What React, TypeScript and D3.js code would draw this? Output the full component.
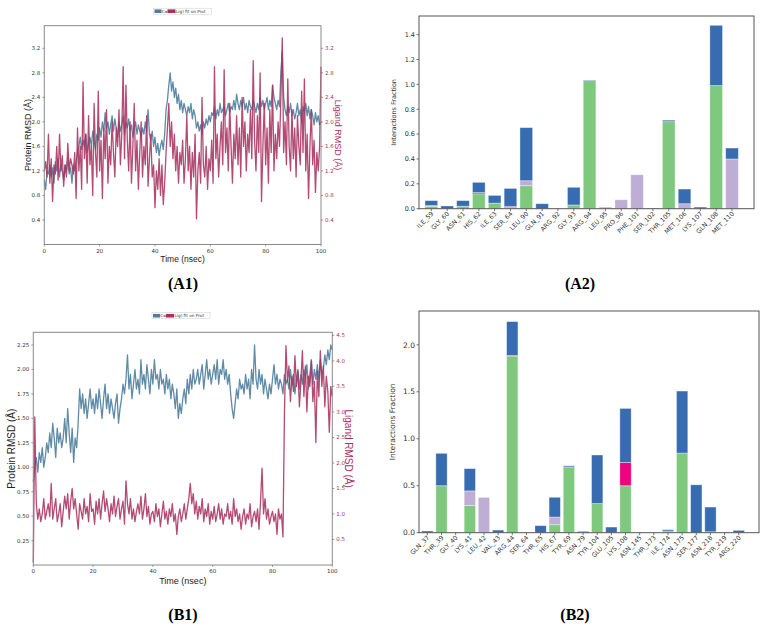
import React from 'react';
import * as d3 from 'd3';

// ---------- time series (sampled every 0.5 ns) ----------
const timeStep = 0.5;
const timeTicks = [0, 20, 40, 60, 80, 100];

const a1Protein = [
  1.05, 0.9, 1.2, 1.15, 1.3, 1.1, 1.25, 1.0, 1.35, 1.2,
  1.4, 1.1, 1.3, 1.2, 1.05, 1.3, 1.2, 1.4, 1.15, 1.25,
  1.0, 1.3, 1.2, 1.35, 1.5, 1.6, 1.75, 1.55, 1.7, 1.6,
  1.8, 1.5, 1.65, 1.75, 1.6, 1.85, 1.7, 1.55, 1.8, 1.7,
  1.9, 1.75, 2.0, 1.85, 2.15, 1.9, 2.0, 1.8, 1.95, 2.1,
  1.85, 2.05, 1.9, 1.75, 2.0, 1.85, 1.95, 2.1, 1.8, 2.0,
  1.9, 2.05, 1.85, 1.95, 1.75, 1.9, 2.0, 1.8, 1.95, 1.85,
  1.75, 1.9, 1.8, 2.0, 1.85, 2.2, 1.8, 1.7, 1.85, 1.6,
  1.75, 1.5, 1.65, 1.45, 1.6, 1.7, 1.55, 1.8, 2.2, 2.35,
  2.6, 2.8, 2.5, 2.65, 2.4, 2.55, 2.3, 2.45, 2.2, 2.35,
  2.15, 2.3, 2.2, 2.1, 2.25, 2.15, 2.3, 2.05, 2.2, 2.1,
  1.9, 2.0, 1.85, 1.95, 1.8, 2.0, 1.9, 2.05, 1.95, 2.1,
  2.0, 2.15, 2.1, 2.25, 2.05, 2.2, 2.1, 2.3, 2.15, 2.2,
  2.25, 2.1, 2.2, 2.3, 2.15, 2.25, 2.2, 2.35, 2.2, 2.45,
  2.3, 2.2, 2.35, 2.25, 2.4, 2.2, 2.3, 2.15, 2.35, 2.25,
  2.2, 2.35, 2.25, 2.15, 2.3, 2.2, 2.4, 2.25, 2.35, 2.2,
  2.3, 2.4, 2.2, 2.35, 2.25, 2.6, 2.4, 2.3, 2.2, 2.35,
  2.25, 2.8, 3.15, 2.4, 2.2, 2.1, 2.25, 2.15, 2.3, 2.1,
  2.2, 2.05, 2.15, 2.3, 2.1, 2.2, 2.0, 2.25, 2.15, 2.3,
  2.1, 2.25, 2.05, 2.2, 2.1, 1.95, 2.15, 2.0, 2.1, 1.95, 2.0,
];

const a1Ligand = [
  1.2, 1.35, 1.1, 1.8, 1.0, 1.4, 0.7, 1.3, 1.15, 1.6,
  1.05, 1.8, 1.2, 1.45, 0.95, 1.3, 1.1, 1.65, 1.2, 1.4,
  1.3, 1.15, 1.5, 0.75, 1.9, 1.2, 1.6, 0.9, 2.65, 1.4,
  1.8, 1.0, 2.1, 1.3, 1.6, 0.8, 2.3, 1.5, 1.1, 2.5,
  1.2, 1.7, 0.75, 1.9, 1.4, 2.2, 1.0, 1.6, 1.3, 2.0,
  1.5, 1.1, 1.9, 1.6, 2.2, 1.3, 1.8, 2.9, 1.4, 2.6,
  1.7, 1.2, 2.0, 1.0, 1.6, 2.3, 1.2, 1.7, 0.9, 1.5,
  2.0, 1.1, 1.6, 1.3, 2.1, 0.95, 1.4, 1.8, 1.1, 1.3,
  0.6, 1.2, 0.9, 1.4, 0.8, 1.3, 0.65, 1.0, 1.5, 1.9,
  2.3, 1.6, 2.0, 1.4, 1.8, 1.2, 1.6, 1.0, 1.5, 1.3,
  1.7, 1.0, 1.4, 2.1, 1.2, 1.6, 0.9, 1.5, 1.1, 1.8,
  0.42, 1.2, 1.5, 1.0, 2.4, 1.3, 1.1, 1.6, 0.9, 1.4,
  1.2, 1.7, 1.0, 2.9, 1.4, 1.8, 1.1, 1.6, 2.0, 1.3,
  2.85, 1.5, 1.9, 1.2, 2.3, 1.6, 1.0, 1.8, 1.4, 2.1,
  1.3, 1.9, 1.1, 2.4, 1.6, 2.0, 1.2, 1.8, 1.5, 2.2,
  1.4, 3.0, 1.7, 1.2, 2.1, 1.5, 2.8, 0.7, 1.6, 2.3,
  1.3, 1.9, 1.0, 2.2, 1.5, 2.6, 1.2, 1.8, 1.4, 2.0,
  1.6, 2.4, 3.37, 1.5, 2.0, 1.3, 2.7, 1.6, 1.2, 2.2,
  1.4, 1.9, 1.1, 2.1, 1.6, 1.3, 2.5, 1.5, 2.7, 1.2,
  1.8, 0.75, 1.6, 2.2, 1.3, 1.7, 0.85, 1.5, 1.2, 1.6, 2.9,
];

const b1Protein = [
  0.85, 1.0, 1.1, 0.95, 1.15, 1.05, 1.2, 1.0, 1.1, 1.25,
  1.15, 1.35, 1.2, 1.45, 1.3, 1.1, 1.4, 1.25, 1.35, 1.2,
  1.3, 1.5, 1.25, 1.6, 1.35, 1.15, 1.4, 1.05, 1.3, 1.2,
  1.45, 1.8, 1.6, 1.75, 1.55, 1.7, 1.5, 1.65, 1.8, 1.6,
  1.7, 1.55, 1.75, 1.6, 1.8, 1.65, 1.5, 1.7, 1.85, 1.6,
  1.75, 1.55, 1.7, 1.6, 1.5, 1.65, 1.75, 1.45, 1.6, 1.7,
  1.85, 1.75, 1.9, 2.15, 1.8, 1.95, 1.7, 1.85, 2.0, 1.8,
  1.9, 1.75, 2.1, 1.85, 1.95, 1.8, 2.05, 1.9, 1.75, 2.0,
  1.85, 2.1, 1.9, 1.95, 1.8, 2.0, 1.85, 1.9, 1.75, 1.95,
  1.8, 1.9, 1.7, 1.85, 1.75, 1.6, 1.8, 1.5, 1.65, 1.55,
  1.7, 1.8, 1.65, 1.9, 1.75, 1.95, 1.8, 2.0, 1.85, 1.9,
  2.0, 1.85, 1.95, 2.05, 1.8, 1.95, 2.1, 1.9, 2.0, 1.85,
  1.95, 2.05, 1.9, 2.1, 1.85, 2.0, 1.95, 2.1, 1.9, 2.0,
  1.85, 1.95, 1.75, 1.6, 1.5, 1.65, 1.8, 1.7, 1.9, 1.8,
  1.85, 1.75, 1.95, 1.8, 1.9, 1.7, 2.0, 1.85, 2.25, 1.9,
  1.8, 2.0, 1.85, 1.95, 1.75, 1.9, 1.8, 1.7, 1.85, 1.75,
  1.9, 2.05, 1.85, 1.95, 1.8, 1.9, 1.85, 1.75, 1.95, 1.85,
  1.9, 1.8, 2.0, 1.85, 1.95, 1.75, 1.9, 2.0, 1.8, 1.95,
  1.85, 2.0, 1.9, 2.05, 1.8, 1.95, 2.1, 1.85, 2.0, 1.9,
  2.05, 1.9, 2.1, 1.95, 2.0, 2.15, 2.05, 2.2, 2.1, 2.25, 2.2,
];

const b1Ligand = [
  0.05, 2.9, 1.2, 0.9, 1.1, 0.85, 1.0, 1.3, 0.9, 1.05,
  1.2, 0.95, 1.6, 0.9, 1.1, 1.3, 0.85, 1.0, 1.2, 0.75,
  1.05, 1.35, 1.1, 1.4, 0.9, 1.25, 1.5, 1.1, 1.3, 1.0,
  0.7, 1.2, 1.05, 0.9, 1.3, 1.0, 1.15, 0.85, 1.4, 1.05,
  1.1, 0.8, 1.25, 1.0, 1.3, 0.9, 1.2, 1.45, 1.05, 1.3,
  1.1, 0.85, 1.2, 1.0, 1.35, 0.95, 1.15, 1.3, 0.9, 1.1,
  1.25, 0.8, 1.65, 1.2, 1.0, 1.3, 0.9, 1.1, 0.85, 1.05,
  1.2, 1.0, 1.35, 0.9, 1.1, 1.4, 0.95, 1.15, 0.8, 1.0,
  1.05, 0.85, 1.2, 0.95, 1.1, 0.75, 1.0, 1.25, 0.9, 1.05,
  0.8, 1.1, 0.95, 1.2, 0.85, 1.0, 0.6, 0.95, 1.1, 0.85,
  1.0, 1.2, 0.9, 1.1, 1.3, 1.6, 1.2, 1.4, 1.0, 1.25,
  0.9, 1.15, 1.0, 1.3, 0.85, 1.1, 0.95, 1.2, 0.8, 1.05,
  0.9, 1.15, 0.85, 1.0, 1.2, 0.9, 1.1, 0.8, 1.0, 0.95,
  1.2, 0.9, 1.05, 0.8, 1.3, 0.95, 1.1, 0.85, 1.0, 0.7,
  0.95, 1.1, 0.8, 1.0, 0.9, 1.2, 0.75, 0.95, 1.05, 0.85,
  1.1, 0.7, 1.25, 1.9, 1.0, 1.3, 0.9, 1.1, 0.8, 0.95,
  1.05, 0.85, 1.0, 0.6, 1.1, 0.9, 1.0, 0.55, 3.0, 4.3,
  3.6, 3.9, 3.2, 3.7, 3.4, 4.1, 3.5, 3.8, 3.1, 3.6,
  4.2, 3.3, 3.9, 3.0, 3.7, 3.5, 4.0, 3.2, 3.6, 2.4,
  3.8, 3.3, 4.2, 3.5, 3.9, 3.1, 3.7, 3.4, 2.6, 3.5, 3.3,
];

const a1LeftTicks = [0.4, 0.8, 1.2, 1.6, 2.0, 2.4, 2.8, 3.2];
const a1RightTicks = [0.4, 0.8, 1.2, 1.6, 2.0, 2.4, 2.8, 3.2];
const b1LeftTicks = [0.25, 0.5, 0.75, 1.0, 1.25, 1.5, 1.75, 2.0, 2.25];
const b1RightTicks = [0.5, 1.0, 1.5, 2.0, 2.5, 3.0, 3.5, 4.0, 4.5];

// ---------- interaction fractions ----------
const a2Residues = ['ILE_59', 'GLY_60', 'ASN_61', 'HIS_62', 'ILE_63', 'SER_64', 'LEU_90', 'GLN_91', 'ARG_92', 'GLY_93', 'ARG_94', 'LEU_95', 'PRO_96', 'PHE_101', 'SER_102', 'THR_105', 'MET_106', 'LYS_107', 'GLN_108', 'MET_110'];
const a2HBonds = [0.02, 0, 0.02, 0.12, 0.045, 0.01, 0.185, 0, 0, 0.03, 1.03, 0, 0, 0, 0, 0.70, 0, 0, 0.99, 0];
const a2Hydrophobic = [0.005, 0, 0, 0, 0, 0, 0.04, 0, 0, 0, 0, 0.013, 0.072, 0.273, 0, 0, 0.04, 0, 0, 0.40];
const a2Ionic = [0, 0, 0, 0.01, 0, 0.008, 0, 0, 0, 0, 0, 0, 0, 0, 0, 0, 0, 0, 0, 0];
const a2Water = [0.04, 0.022, 0.045, 0.082, 0.062, 0.145, 0.427, 0.04, 0, 0.142, 0.005, 0, 0, 0, 0.004, 0.012, 0.118, 0.013, 0.485, 0.088];
const a2Ticks = [0.0, 0.2, 0.4, 0.6, 0.8, 1.0, 1.2, 1.4];

const b2Residues = ['GLN_37', 'THR_39', 'GLY_40', 'LYS_41', 'LEU_42', 'VAL_43', 'ARG_44', 'SER_64', 'THR_65', 'HIS_67', 'TYR_69', 'ASN_79', 'TYR_104', 'GLU_105', 'LYS_108', 'ASN_145', 'THR_173', 'ILE_174', 'ASN_175', 'SER_177', 'ASN_218', 'TYR_219', 'ARG_220'];
const b2HBonds = [0, 0.5, 0, 0.29, 0, 0, 1.88, 0, 0, 0.085, 0.70, 0, 0.31, 0, 0.5, 0, 0, 0.018, 0.848, 0, 0.01, 0, 0];
const b2Hydrophobic = [0, 0, 0.004, 0.155, 0.376, 0, 0, 0, 0, 0.082, 0, 0, 0, 0, 0, 0, 0, 0, 0, 0, 0, 0.005, 0];
const b2Ionic = [0, 0, 0, 0, 0, 0, 0.007, 0, 0, 0, 0, 0, 0, 0, 0.248, 0, 0, 0, 0, 0, 0, 0, 0];
const b2Water = [0.018, 0.345, 0, 0.237, 0, 0.028, 0.36, 0.002, 0.075, 0.21, 0.012, 0.014, 0.517, 0.06, 0.575, 0, 0, 0.014, 0.66, 0.51, 0.263, 0, 0.025];
const b2Ticks = [0.0, 0.5, 1.0, 1.5, 2.0];

const seriesColors = { hbond: '#7fc97f', hydrophobic: '#beaed4', ionic: '#f0027f', water: '#386cb0' };
const protColor = '#4f7e9c';
const ligColor = '#a8325e';
const tickFont = 'DejaVu Sans, sans-serif';

type LineProps = {
  x0: number; x1: number; yTop: number; yBot: number;
  prot: number[]; lig: number[];
  leftDomain: [number, number]; rightDomain: [number, number];
  leftTicks: number[]; rightTicks: number[]; leftFmt: (v: number) => string; rightFmt: (v: number) => string;
  legendX: number; legendY: number; labelSize: number; timeSize: number;
  leftLabelX: number; rightLabelX: number; timeY: number;
};

function LinePanel(p: LineProps) {
  const x = d3.scaleLinear().domain([0, 100]).range([p.x0, p.x1]);
  const yl = d3.scaleLinear().domain(p.leftDomain).range([p.yBot, p.yTop]);
  const yr = d3.scaleLinear().domain(p.rightDomain).range([p.yBot, p.yTop]);
  const lineL = d3.line<number>().x((_, i) => x(i * timeStep)).y((d) => yl(d));
  const lineR = d3.line<number>().x((_, i) => x(i * timeStep)).y((d) => yr(d));
  const midY = (p.yTop + p.yBot) / 2;
  return (
    <g>
      <path d={lineL(p.prot) || ''} fill="none" stroke={protColor} strokeWidth={1.3} strokeOpacity={0.9} strokeLinejoin="round" />
      <path d={lineR(p.lig) || ''} fill="none" stroke={ligColor} strokeWidth={1.3} strokeOpacity={0.88} strokeLinejoin="round" />
      <rect x={p.x0} y={p.yTop} width={p.x1 - p.x0} height={p.yBot - p.yTop} fill="none" stroke="#8a8a8a" strokeWidth={1} />
      {timeTicks.map((t) => (
        <g key={t}>
          <line x1={x(t)} x2={x(t)} y1={p.yBot} y2={p.yBot + 2} stroke="#666" strokeWidth={0.6} />
          <text x={x(t)} y={p.yBot + 8} fontSize={5.5} fontFamily={tickFont} textAnchor="middle" fill="#333">{t}</text>
        </g>
      ))}
      {p.leftTicks.map((t) => (
        <g key={'l' + t}>
          <line x1={p.x0 - 2} x2={p.x0} y1={yl(t)} y2={yl(t)} stroke="#666" strokeWidth={0.6} />
          <text x={p.x0 - 4} y={yl(t) + 2} fontSize={5.5} fontFamily={tickFont} textAnchor="end" fill="#333">{p.leftFmt(t)}</text>
        </g>
      ))}
      {p.rightTicks.map((t) => (
        <g key={'r' + t}>
          <line x1={p.x1} x2={p.x1 + 2} y1={yr(t)} y2={yr(t)} stroke={ligColor} strokeWidth={0.6} />
          <text x={p.x1 + 4} y={yr(t) + 2} fontSize={5.5} fontFamily={tickFont} textAnchor="start" fill={ligColor}>{p.rightFmt(t)}</text>
        </g>
      ))}
      <text x={(p.x0 + p.x1) / 2} y={p.timeY} fontSize={p.timeSize} fontFamily="Liberation Sans, sans-serif" textAnchor="middle" fill="#222">Time (nsec)</text>
      <text transform={`translate(${p.leftLabelX},${midY}) rotate(-90)`} fontSize={p.labelSize} fontFamily="Liberation Sans, sans-serif" textAnchor="middle" fill="#222">Protein RMSD (Å)</text>
      <text transform={`translate(${p.rightLabelX},${midY}) rotate(90)`} fontSize={p.labelSize} fontFamily="Liberation Sans, sans-serif" textAnchor="middle" fill={ligColor}>Ligand RMSD (Å)</text>
      <g>
        <rect x={p.legendX} y={p.legendY} width={58} height={6} fill="#fff" stroke="#ccc" strokeWidth={0.5} />
        <rect x={p.legendX + 1} y={p.legendY + 1.2} width={7} height={3.6} fill={protColor} />
        <text x={p.legendX + 8.3} y={p.legendY + 4.6} fontSize={4.2} fontFamily={tickFont} fill="#333">Cα</text>
        <rect x={p.legendX + 14} y={p.legendY + 1.2} width={8} height={3.6} fill={ligColor} />
        <text x={p.legendX + 22.5} y={p.legendY + 4.6} fontSize={4.2} fontFamily={tickFont} fill="#333">Lig) fit on Prot</text>
      </g>
    </g>
  );
}

type BarProps = {
  x0: number; x1: number; yTop: number; yBot: number;
  residues: string[]; hb: number[]; hp: number[]; io: number[]; wb: number[];
  xDomain: [number, number]; yMax: number; ticks: number[];
  tickSize: number; labelSize: number; yLabelX: number; xLabelSize: number;
};

function BarPanel(p: BarProps) {
  const x = d3.scaleLinear().domain(p.xDomain).range([p.x0, p.x1]);
  const y = d3.scaleLinear().domain([0, p.yMax]).range([p.yBot, p.yTop]);
  const bw = (x(1) - x(0)) * 0.8;
  const layers: { key: string; vals: number[]; color: string }[] = [
    { key: 'hbond', vals: p.hb, color: seriesColors.hbond },
    { key: 'hydrophobic', vals: p.hp, color: seriesColors.hydrophobic },
    { key: 'ionic', vals: p.io, color: seriesColors.ionic },
    { key: 'water', vals: p.wb, color: seriesColors.water },
  ];
  const rows = p.residues.map((r, i) => ({ r, i, hbond: p.hb[i], hydrophobic: p.hp[i], ionic: p.io[i], water: p.wb[i] }));
  const stack = d3.stack<any>().keys(layers.map((l) => l.key))(rows);
  return (
    <g>
      {stack.map((s, li) => (
        <g key={s.key}>
          {s.map((d, i) => {
            const h = y(d[0]) - y(d[1]);
            if (h <= 0) return null;
            return (
              <rect key={i} x={x(i) - bw / 2} y={y(d[1])} width={bw} height={h} fill={layers[li].color}
                stroke="#ffffff" strokeOpacity={0.45} strokeWidth={0.8} />
            );
          })}
        </g>
      ))}
      <rect x={p.x0} y={p.yTop} width={p.x1 - p.x0} height={p.yBot - p.yTop} fill="none" stroke="#555" strokeWidth={1} />
      {p.ticks.map((t) => (
        <g key={t}>
          <line x1={p.x0 - 2.5} x2={p.x0} y1={y(t)} y2={y(t)} stroke="#444" strokeWidth={0.7} />
          <text x={p.x0 - 4} y={y(t) + p.tickSize * 0.36} fontSize={p.tickSize} fontFamily={tickFont} textAnchor="end" fill="#333">{t.toFixed(1)}</text>
        </g>
      ))}
      {p.residues.map((r, i) => (
        <g key={r}>
          <line x1={x(i)} x2={x(i)} y1={p.yBot} y2={p.yBot + 2.5} stroke="#444" strokeWidth={0.7} />
          <text transform={`translate(${x(i) + 2.5},${p.yBot + 5.5}) rotate(-45)`} fontSize={p.xLabelSize} fontFamily={tickFont} textAnchor="end" fill="#333">{r}</text>
        </g>
      ))}
      <text transform={`translate(${p.yLabelX},${(p.yTop + p.yBot) / 2}) rotate(-90)`} fontSize={p.labelSize} fontFamily={tickFont} textAnchor="middle" fill="#333">Interactions Fraction</text>
    </g>
  );
}

function Caption({ x, y, text }: { x: number; y: number; text: string }) {
  return <text x={x} y={y} fontSize={16} fontWeight="bold" fontFamily="Liberation Serif, serif" textAnchor="middle" fill="#000">{text}</text>;
}

export default function App() {
  const f1 = (v: number) => v.toFixed(1);
  const f2 = (v: number) => v.toFixed(2);
  return (
    <svg width={766} height={626} style={{ position: 'absolute', left: 0, top: 0, background: '#fff' }}>
      <rect width={766} height={626} fill="#fff" />
      <LinePanel x0={44.3} x1={321} yTop={25.7} yBot={244.5} prot={a1Protein} lig={a1Ligand}
        leftDomain={[0, 3.568]} rightDomain={[0, 3.568]} leftTicks={a1LeftTicks} rightTicks={a1RightTicks}
        leftFmt={f1} rightFmt={f1} legendX={153.5} legendY={8.2} labelSize={9} timeSize={8.5}
        leftLabelX={31} rightLabelX={335} timeY={262} />
      <BarPanel x0={419} x1={754} yTop={16} yBot={208.7} residues={a2Residues} hb={a2HBonds} hp={a2Hydrophobic}
        io={a2Ionic} wb={a2Water} xDomain={[-0.78, 20.39]} yMax={1.55} ticks={a2Ticks} tickSize={6.5}
        labelSize={6.5} yLabelX={396} xLabelSize={6.3} />
      <LinePanel x0={33.3} x1={332.3} yTop={332.3} yBot={565} prot={b1Protein} lig={b1Ligand}
        leftDomain={[0, 2.38]} rightDomain={[0, 4.56]} leftTicks={b1LeftTicks} rightTicks={b1RightTicks}
        leftFmt={f2} rightFmt={f1} legendX={152} legendY={312.7} labelSize={10} timeSize={9}
        leftLabelX={15} rightLabelX={345} timeY={584} />
      <BarPanel x0={419} x1={759} yTop={311} yBot={532.7} residues={b2Residues} hb={b2HBonds} hp={b2Hydrophobic}
        io={b2Ionic} wb={b2Water} xDomain={[-0.59, 23.43]} yMax={2.36} ticks={b2Ticks} tickSize={7.5}
        labelSize={7.5} yLabelX={395} xLabelSize={6.3} />
      <Caption x={183} y={289} text="(A1)" />
      <Caption x={580} y={289} text="(A2)" />
      <Caption x={183} y={620} text="(B1)" />
      <Caption x={575} y={620} text="(B2)" />
    </svg>
  );
}
